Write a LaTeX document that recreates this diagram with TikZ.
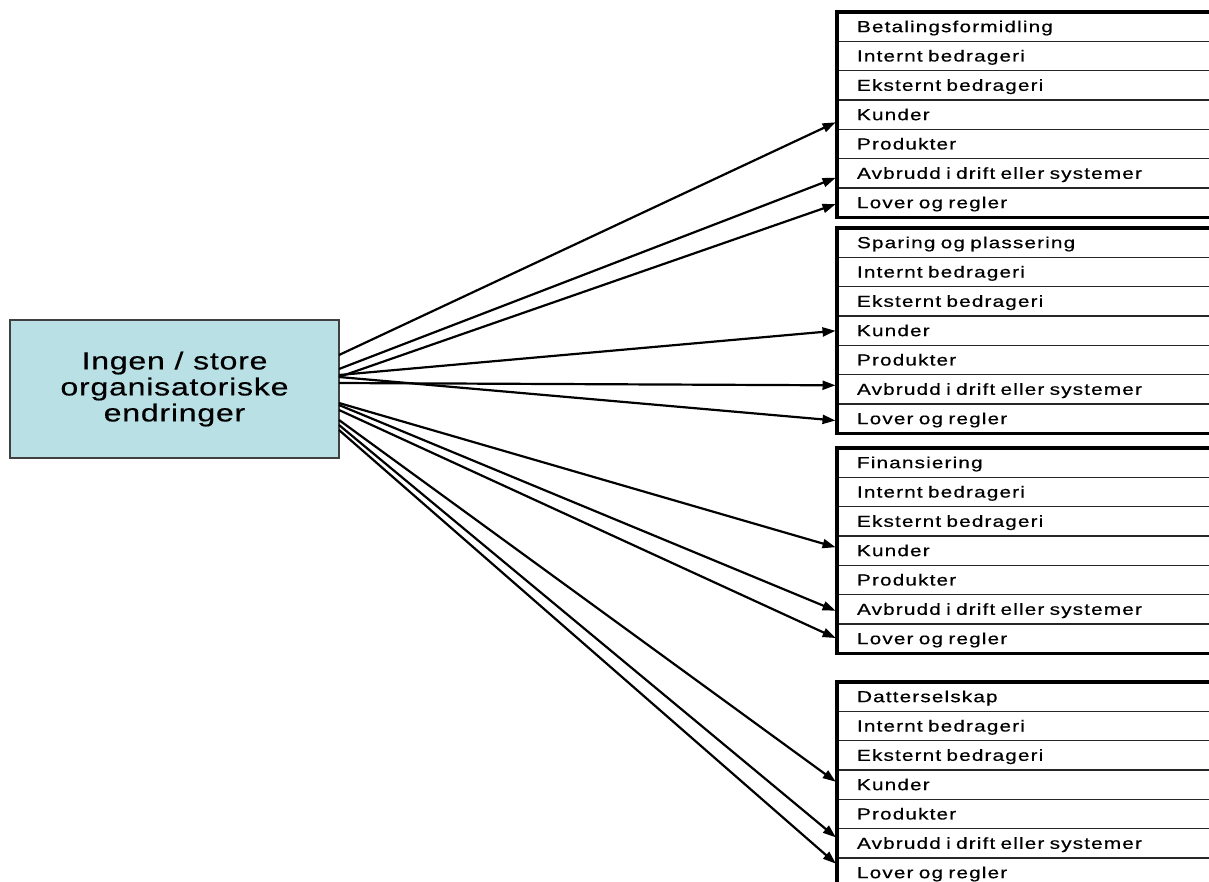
\documentclass[tikz,border=0pt]{standalone}
\usepackage{fontspec}
\setmainfont{Liberation Sans}
\newfontfamily\rowfont[FakeStretch=1.3,LetterSpace=7,WordSpace=0.5,FakeBold=0.5]{Liberation Sans}
\newfontfamily\srcfont[FakeStretch=1.3,LetterSpace=3,FakeBold=0.4]{Liberation Sans}
\usetikzlibrary{arrows.meta}
\definecolor{srcfill}{HTML}{B9E0E5}
\tikzset{
 rowbox/.style={draw=black!85, line width=1.3pt, anchor=north west, outer sep=0pt,
   minimum height=29.33pt, text width=380pt, inner xsep=20pt, inner ysep=0pt,
   align=left, text height=11pt, text depth=0pt,
   font=\rowfont\fontsize{16}{18}\selectfont},
 srcbox/.style={draw=black!75, line width=1.2pt, fill=srcfill, outer sep=0pt,
   minimum width=329pt, minimum height=138pt, align=center,
   font=\srcfont\fontsize{24.7}{26}\selectfont},
 arr/.style={line width=2.2pt, -{Triangle[length=13pt,width=9pt]}, shorten >=1.5pt},
 outline/.style={line width=3.2pt},
}
\begin{document}
\begin{tikzpicture}[x=1pt,y=-1pt]
\useasboundingbox (0,0) rectangle (1209,881);
\clip (0,0) rectangle (1209,881);
\node[srcbox] (src) at (174.5,389) {Ingen / store\\organisatoriske\\endringer};
\foreach \g/\top/\title in {1/12/Betalingsformidling, 2/228/Sparing og plassering, 3/448/Finansiering, 4/682/Datterselskap}{
  \node[rowbox] (g\g r0) at (837,\top) {\title};
  \foreach \i/\p/\t in {1/0/Internt bedrageri, 2/1/Eksternt bedrageri, 3/2/Kunder, 4/3/Produkter, 5/4/Avbrudd i drift eller systemer, 6/5/Lover og regler}{
    \node[rowbox] (g\g r\i) at (g\g r\p.south west) {\t};
  }
  \draw[outline] (g\g r0.north east) -- (g\g r0.north west) -- (g\g r6.south west) -- (g\g r6.south east);
}
\draw[arr] ([yshift=34pt]src.east) -- ([yshift=-7pt]g1r3.west);
\draw[arr] ([yshift=20pt]src.east) -- ([yshift=-4pt]g1r5.west);
\draw[arr] ([yshift=12pt]src.east) -- ([yshift=-1pt]g1r6.west);
\draw[arr] ([yshift=14pt]src.east) -- (g2r3.west);
\draw[arr] ([yshift=6pt]src.east) -- ([yshift=4pt]g2r5.west);
\draw[arr] ([yshift=12pt]src.east) -- ([yshift=-2pt]g2r6.west);
\draw[arr] ([yshift=-14pt]src.east) -- ([yshift=3pt]g3r3.west);
\draw[arr] ([yshift=-16pt]src.east) -- ([yshift=-2pt]g3r5.west);
\draw[arr] ([yshift=-21pt]src.east) -- (g3r6.west);
\draw[arr] ([yshift=-31pt]src.east) -- ([yshift=2pt]g4r3.west);
\draw[arr] ([yshift=-36pt]src.east) -- ([yshift=5pt]g4r5.west);
\draw[arr] ([yshift=-41pt]src.east) -- ([yshift=8pt]g4r6.west);
\end{tikzpicture}
\end{document}
